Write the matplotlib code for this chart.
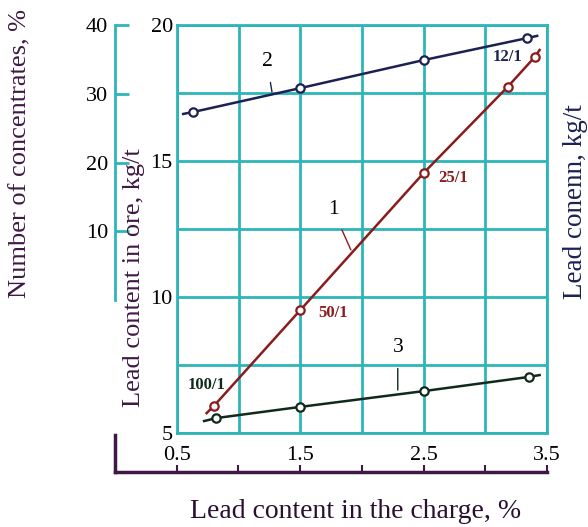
import matplotlib.pyplot as plt
import numpy as np

plt.rcParams['font.family'] = ['Liberation Serif', 'DejaVu Serif']

# curve 1 - lead content in ore (dark red)
charge_1 = [0.8, 1.5, 2.5, 3.18, 3.4]
ore_1 = [6.0, 9.52, 14.56, 17.72, 18.82]
ends_x_1 = [0.74, 3.44]
ends_y_1 = [5.73, 19.08]

# curve 2 - lead in concentrate (navy)
charge_2 = [0.63, 1.5, 2.5, 3.34]
ore_2 = [16.8, 17.68, 18.71, 19.52]
ends_x_2 = [0.55, 3.42]
ends_y_2 = [16.73, 19.6]

# curve 3 - number of concentrates (dark green)
charge_3 = [0.82, 1.5, 2.5, 3.35]
ore_3 = [5.55, 5.96, 6.54, 7.06]
ends_x_3 = [0.72, 3.44]
ends_y_3 = [5.44, 7.13]

ratio_labels = ['100/1', '50/1', '25/1', '12/1']
inner_ticks = [5, 7.5, 10, 12.5, 15, 17.5, 20]
inner_labels = ['5', '', '10', '', '15', '', '20']
outer_ticks = [10, 20, 30, 40]
x_ticks = [0.5, 1.0, 1.5, 2.0, 2.5, 3.0, 3.5]
x_labels = ['0.5', '', '1.5', '', '2.5', '', '3.5']

teal = '#2db5b8'
purple = '#3f1846'
red = '#8a1c1c'
navy = '#1b2152'
green = '#0f2a1a'

W, H = 588, 527
fig = plt.figure(figsize=(W / 100, H / 100), dpi=100)

def box(l, t, r, b):
    return [l / W, 1 - b / H, (r - l) / W, (b - t) / H]

ax = fig.add_axes(box(177, 25, 547, 433))
ax.set_xlim(0.5, 3.5)
ax.set_ylim(5, 20)
ax.set_xticks(x_ticks)
ax.set_xticklabels([])
ax.set_yticks(inner_ticks)
ax.set_yticklabels(inner_labels, fontsize=16)
ax.tick_params(length=0, pad=3)
ax.grid(True, color=teal, lw=2)
for s in ax.spines.values():
    s.set_color(teal)
    s.set_linewidth(2)

def curve(xs, ys, ex, ey, color):
    ax.plot([ex[0]] + xs + [ex[1]], [ey[0]] + ys + [ey[1]], color=color, lw=1.8, zorder=3)
    ax.plot(xs, ys, 'o', ms=6, mfc='white', mec=color, mew=1.6, zorder=4)

curve(charge_1, ore_1, ends_x_1, ends_y_1, red)
curve(charge_2, ore_2, ends_x_2, ends_y_2, navy)
curve(charge_3, ore_3, ends_x_3, ends_y_3, green)

# curve numbers with leader lines
ax.annotate('2', xy=(1.27, 17.54), xytext=(1.23, 18.64), fontsize=15.5, ha='center', va='center',
            arrowprops=dict(arrowstyle='-', color=navy, lw=1, shrinkA=6, shrinkB=0))
ax.annotate('1', xy=(1.91, 11.73), xytext=(1.765, 13.2), fontsize=15.5, ha='center', va='center',
            arrowprops=dict(arrowstyle='-', color=red, lw=1, shrinkA=6, shrinkB=0))
ax.annotate('3', xy=(2.29, 6.58), xytext=(2.29, 8.13), fontsize=15.5, ha='center', va='center',
            arrowprops=dict(arrowstyle='-', color=green, lw=1, shrinkA=6, shrinkB=0))

# concentration ratios
ax.text(0.74, 6.76, ratio_labels[0], color=green, fontsize=12, fontweight='bold', ha='center', va='center')
ax.text(1.765, 9.41, ratio_labels[1], color=red, fontsize=12, fontweight='bold', ha='center', va='center')
ax.text(2.74, 14.37, ratio_labels[2], color=red, fontsize=12, fontweight='bold', ha='center', va='center')
ax.text(3.18, 18.82, ratio_labels[3], color=navy, fontsize=12, fontweight='bold', ha='center', va='center')

# outer left scale: number of concentrates
axn = fig.add_axes(box(115, 25, 125, 300))
axn.set_ylim(0, 40)
axn.set_yticks(outer_ticks)
axn.set_yticklabels([str(t) for t in outer_ticks], fontsize=16)
axn.set_xticks([])
axn.tick_params(axis='y', direction='in', length=10, width=2, color=teal, pad=5)
axn.patch.set_alpha(0)
for k in ['top', 'right', 'bottom']:
    axn.spines[k].set_visible(False)
axn.spines['left'].set_color(teal)
axn.spines['left'].set_linewidth(2)

# bottom scale
axb = fig.add_axes(box(115, 435, 547, 472))
axb.set_xlim(0, 3.5)
axb.set_xticks(x_ticks)
axb.set_xticklabels(x_labels, fontsize=16)
axb.set_yticks([])
axb.tick_params(axis='x', direction='in', length=5, width=1.5, color=purple, pad=-19)
axb.patch.set_alpha(0)
for k in ['top', 'right']:
    axb.spines[k].set_visible(False)
for k in ['bottom', 'left']:
    axb.spines[k].set_color(purple)
    axb.spines[k].set_linewidth(2.5)

fig.text(356 / W, 1 - 512 / H, 'Lead content in the charge, %', fontsize=20, color='#2a1030',
         ha='center', va='center')
fig.text(20 / W, 1 - 153 / H, 'Number of concentrates, %', fontsize=19, color=purple,
         rotation=90, ha='center', va='center')
fig.text(134 / W, 1 - 278 / H, 'Lead content in ore, kg/t', fontsize=19, color=purple,
         rotation=90, ha='center', va='center')
fig.text(575 / W, 1 - 202 / H, 'Lead conenn, kg/t', fontsize=19.5, color=navy,
         rotation=90, ha='center', va='center')

fig.savefig('out.png', dpi=100)
